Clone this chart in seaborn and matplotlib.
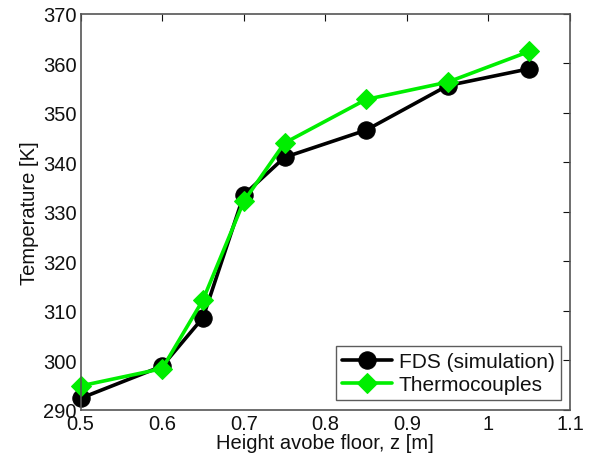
import matplotlib
matplotlib.use("Agg")
import matplotlib.pyplot as plt
import seaborn as sns
import pandas as pd

z = [0.5, 0.6, 0.65, 0.7, 0.75, 0.85, 0.95, 1.05]
fds = [292.3, 298.8, 308.6, 333.4, 341.0, 346.5, 355.5, 358.9]
thermo = [294.8, 298.3, 312.2, 332.1, 343.9, 352.7, 356.2, 362.4]
xticks = [0.5, 0.6, 0.7, 0.8, 0.9, 1.0, 1.1]
xticklabels = ["0.5", "0.6", "0.7", "0.8", "0.9", "1", "1.1"]
yticks = [290, 300, 310, 320, 330, 340, 350, 360, 370]

sns.set_style("white")
plt.rcParams['font.family'] = ['Liberation Sans', 'DejaVu Sans']
plt.rcParams['text.color'] = '#111111'
plt.rcParams['axes.labelcolor'] = '#111111'
plt.rcParams['xtick.color'] = '#111111'
plt.rcParams['ytick.color'] = '#111111'

fig = plt.figure(figsize=(5.95, 4.64), dpi=100)
ax = fig.add_axes([0.1356, 0.115, 0.958 - 0.1356, 0.968 - 0.115])

df = pd.DataFrame({"z": z, "fds": fds, "thermo": thermo})
sns.lineplot(data=df, x="z", y="fds", ax=ax, color="black", lw=2.6,
             marker="o", markersize=12.5, markeredgecolor="black",
             label="FDS (simulation)", clip_on=False)
sns.lineplot(data=df, x="z", y="thermo", ax=ax, color="#00ee00", lw=2.6,
             marker="D", markersize=10.5, markeredgecolor="#00ee00",
             label="Thermocouples", clip_on=False)

ax.set_xlim(0.5, 1.1)
ax.set_ylim(290, 370)
ax.set_xticks(xticks)
ax.set_xticklabels(xticklabels)
ax.set_yticks(yticks)
ax.tick_params(direction="in", length=5, width=0.8,
               labelsize=14.5, top=True, right=True, pad=3)
ax.tick_params(axis="both", colors="#111111")
for t in ax.xaxis.get_ticklines() + ax.yaxis.get_ticklines():
    t.set_color("#555555")
for s in ax.spines.values():
    s.set_color("#555555")
    s.set_linewidth(1.2)
ax.set_xlabel("Height avobe floor, z [m]", fontsize=14.5, labelpad=0)
ax.set_ylabel("Temperature [K]", fontsize=14.5, labelpad=3)

leg = ax.legend(loc="lower right", fontsize=15, frameon=True, fancybox=False,
                edgecolor="#333333", borderpad=0.3, handlelength=2.4,
                handletextpad=0.3, labelspacing=0.2, borderaxespad=0.45)
leg.get_frame().set_linewidth(1.0)

fig.savefig("out.png", dpi=100)
